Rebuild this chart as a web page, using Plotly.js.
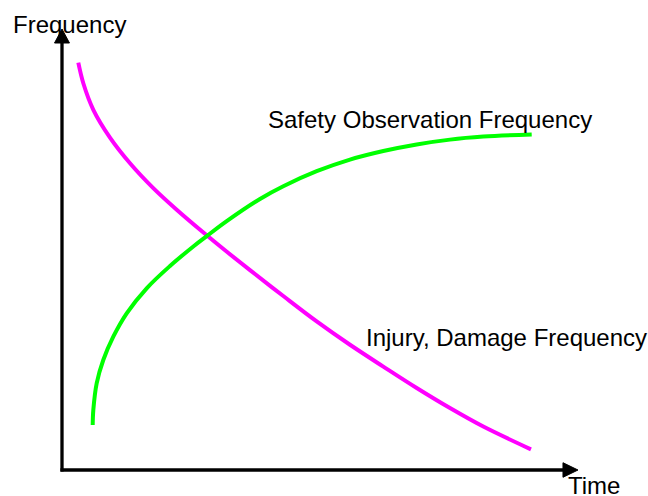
<!DOCTYPE html>
<html>
<head>
<meta charset="utf-8">
<script src="https://cdn.plot.ly/plotly-3.0.1.min.js"></script>
<style>
  html, body { margin: 0; padding: 0; background: #ffffff; }
  #chart { width: 648px; height: 496px; }
</style>
</head>
<body>
<div id="chart"></div>
<script>
// Injury, Damage Frequency curve (time, frequency)
const injuryTime = [0.316, 0.413, 0.607, 0.930, 1.318, 1.769, 2.223, 2.752, 3.159, 3.643, 4.289, 4.936, 5.581, 6.227, 6.874, 7.519, 8.165, 9.089];
const injuryFreq = [9.236, 8.770, 8.169, 7.539, 6.957, 6.393, 5.903, 5.374, 4.983, 4.533, 3.945, 3.370, 2.840, 2.345, 1.860, 1.405, 0.985, 0.469];

// Safety Observation Frequency curve (time, frequency)
const safetyTime = [0.595, 0.607, 0.672, 0.800, 0.994, 1.254, 1.641, 2.093, 2.545, 2.804, 3.192, 3.837, 4.289, 4.936, 5.581, 6.227, 6.874, 7.519, 8.165, 9.103];
const safetyFreq = [1.020, 1.361, 1.966, 2.494, 3.023, 3.553, 4.120, 4.626, 5.069, 5.302, 5.643, 6.146, 6.435, 6.775, 7.039, 7.233, 7.382, 7.492, 7.560, 7.610];

// Text labels
const yAxisLabel = "Frequency";
const xAxisLabel = "Time";
const safetyLabel = "Safety Observation Frequency";
const injuryLabel = "Injury, Damage Frequency";

const FONT = "Liberation Sans, Arial, Helvetica, sans-serif";

const traces = [
  {
    x: injuryTime, y: injuryFreq, type: "scatter", mode: "lines",
    line: { color: "#ff00ff", width: 4, shape: "spline", smoothing: 1 },
    hoverinfo: "skip", showlegend: false
  },
  {
    x: safetyTime, y: safetyFreq, type: "scatter", mode: "lines",
    line: { color: "#00ff00", width: 4, shape: "spline", smoothing: 1 },
    hoverinfo: "skip", showlegend: false
  }
];

const hiddenAxis = { showgrid: false, zeroline: false, showline: false, showticklabels: false, ticks: "", fixedrange: true };

const layout = {
  width: 648, height: 496,
  margin: { l: 0, r: 0, t: 0, b: 0, pad: 0 },
  paper_bgcolor: "#ffffff", plot_bgcolor: "#ffffff",
  xaxis: Object.assign({ range: [-1.2016, 11.357] }, hiddenAxis),
  yaxis: Object.assign({ range: [-0.5896, 10.658] }, hiddenAxis),
  font: { family: FONT, size: 24, color: "#000000" },
  shapes: [
    { type: "line", xref: "x", yref: "y", x0: -0.03, y0: 0, x1: 9.72, y1: 0, line: { color: "#000", width: 3.3 } },
    { type: "line", xref: "x", yref: "y", x0: 0, y0: -0.035, x1: 0, y1: 9.69, line: { color: "#000", width: 3.3 } },
    { type: "path", xref: "x", yref: "y", path: "M 10 0 L 9.709 0.165 L 9.709 -0.165 Z", fillcolor: "#000", line: { color: "#000", width: 1 } },
    { type: "path", xref: "x", yref: "y", path: "M 0 10 L 0.145 9.683 L -0.145 9.683 Z", fillcolor: "#000", line: { color: "#000", width: 1 } }
  ],
  annotations: [
    { text: yAxisLabel, x: -0.985, y: 10.113, xref: "x", yref: "y", xanchor: "left", yanchor: "middle", showarrow: false, font: { family: FONT, size: 24, color: "#000" } },
    { text: xAxisLabel, x: 9.765, y: -0.345, xref: "x", yref: "y", xanchor: "left", yanchor: "middle", showarrow: false, font: { family: FONT, size: 24, color: "#000" } },
    { text: safetyLabel, x: 3.95, y: 7.937, xref: "x", yref: "y", xanchor: "left", yanchor: "middle", showarrow: false, font: { family: FONT, size: 24, color: "#000" } },
    { text: injuryLabel, x: 5.85, y: 3.016, xref: "x", yref: "y", xanchor: "left", yanchor: "middle", showarrow: false, font: { family: FONT, size: 24, color: "#000" } }
  ]
};

Plotly.newPlot("chart", traces, layout, { staticPlot: true, displayModeBar: false });
</script>
</body>
</html>
